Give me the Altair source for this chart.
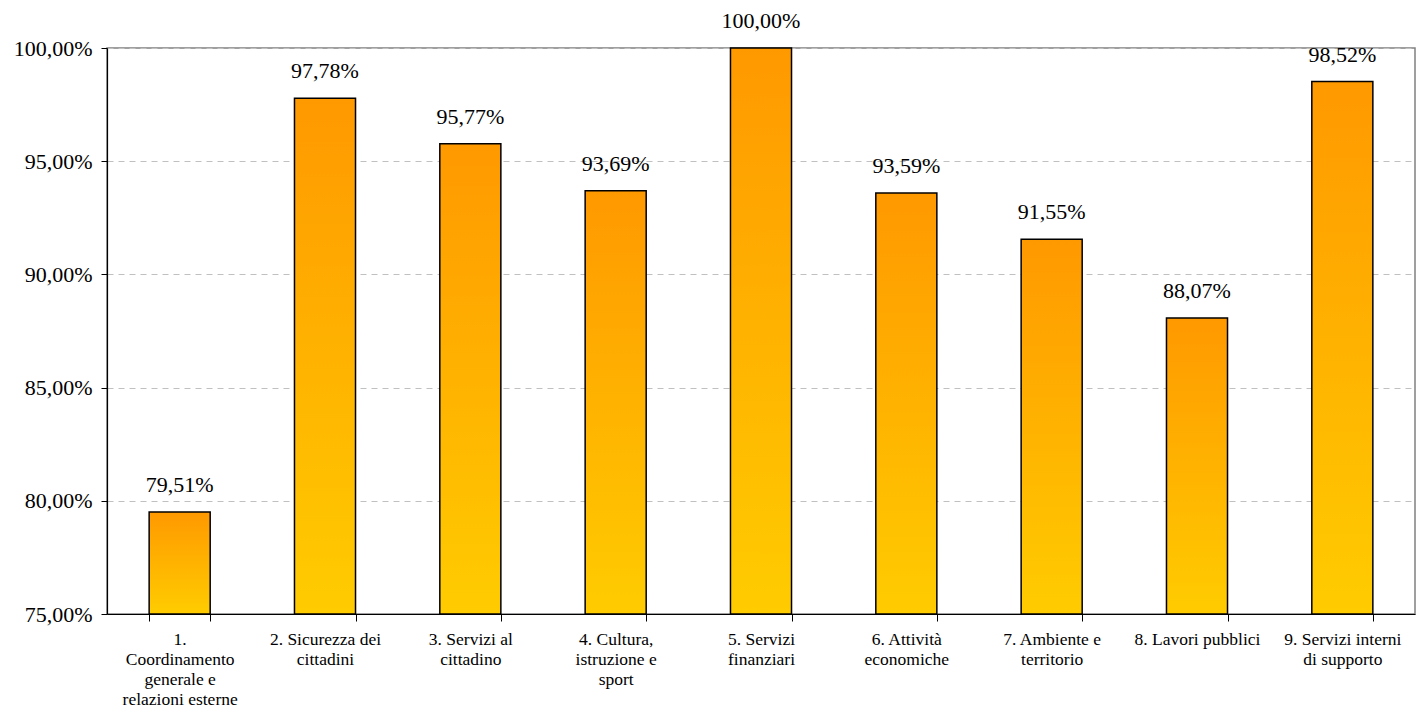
import altair as alt
import pandas as pd

categories = [
    "1.|Coordinamento|generale e|relazioni esterne",
    "2. Sicurezza dei|cittadini",
    "3. Servizi al|cittadino",
    "4. Cultura,|istruzione e|sport",
    "5. Servizi|finanziari",
    "6. Attività|economiche",
    "7. Ambiente e|territorio",
    "8. Lavori pubblici",
    "9. Servizi interni|di supporto",
]
values = [79.51, 97.78, 95.77, 93.69, 100.00, 93.59, 91.55, 88.07, 98.52]
axis_min = 75

df = pd.DataFrame({"cat": categories, "v": values, "base": [axis_min] * len(values)})

FONT = "Liberation Serif"

x = alt.X(
    "cat:N",
    sort=None,
    title=None,
    scale=alt.Scale(paddingInner=0.58, paddingOuter=0.29),
    axis=alt.Axis(
        labelAngle=0,
        labelExpr="split(datum.label, '|')",
        labelFont=FONT,
        labelFontSize=17.5,
        labelColor="black",
        labelLineHeight=20,
        labelPadding=9,
        labelBaseline="top",
        labelOverlap=False,
        tickBand="extent",
        tickColor="black",
        tickSize=7,
        domainColor="black",
        domainWidth=1.2,
        grid=False,
        labelLimit=200,
    ),
)

y = alt.Y(
    "v:Q",
    title=None,
    scale=alt.Scale(domain=[75, 100], nice=False, zero=False),
    axis=alt.Axis(
        values=[75, 80, 85, 90, 95, 100],
        labelExpr="replace(format(datum.value, '.2f'), '.', ',') + '%'",
        labelFont=FONT,
        labelFontSize=22,
        labelColor="black",
        labelPadding=9,
        tickColor="black",
        tickSize=6,
        domainColor="black",
        domainWidth=1.2,
        grid=True,
        gridColor="#c0c0c0",
        gridDash=[6, 5],
        gridWidth=1,
    ),
)

grad = alt.Gradient(
    gradient="linear",
    stops=[
        alt.GradientStop(color="#FFCC00", offset=0),
        alt.GradientStop(color="#FF9900", offset=1),
    ],
    x1=0, x2=0, y1=1, y2=0,
)

bars = alt.Chart(df).mark_bar(
    color=grad, stroke="black", strokeWidth=1.5
).encode(x=x, y=y, y2="base:Q")

labels = alt.Chart(df).transform_calculate(
    lab="replace(format(datum.v, '.2f'), '.', ',') + '%'"
).mark_text(
    font=FONT, fontSize=22, color="black", baseline="bottom", dy=-15
).encode(x=alt.X("cat:N", sort=None), y=alt.Y("v:Q"), text="lab:N")

chart = (
    alt.layer(bars, labels)
    .properties(
        width=1308,
        height=566,
        autosize=alt.AutoSizeParams(type="none"),
        padding={"left": 99, "top": 40, "right": 3, "bottom": 100},
        background="white",
    )
    .configure_view(stroke="#808080", strokeWidth=1.5)
)

chart.save("out.html", embed_options={"renderer": "svg", "actions": False})
